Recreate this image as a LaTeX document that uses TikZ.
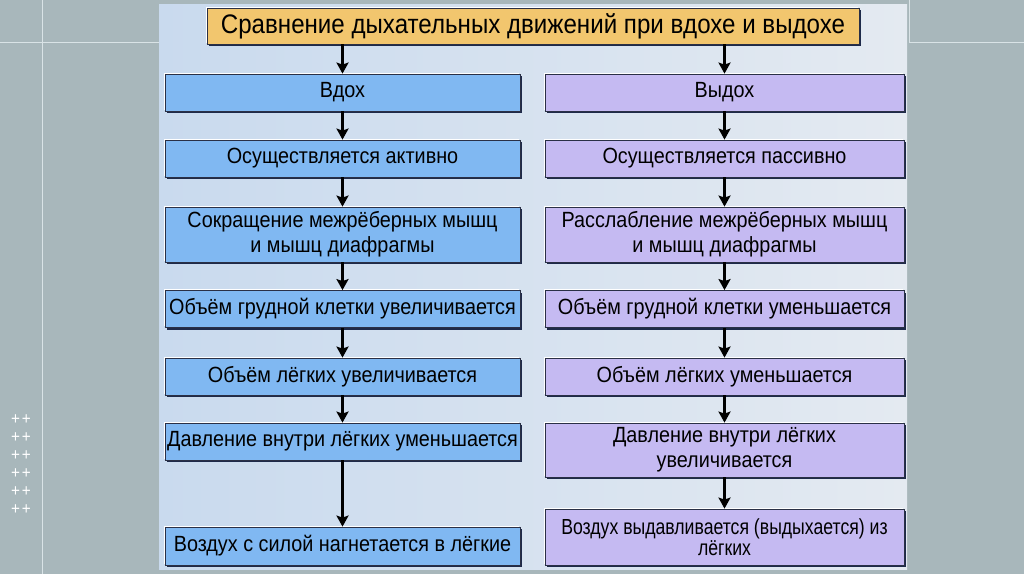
\documentclass[tikz,border=0pt]{standalone}
\usepackage{fontspec}
\setmainfont{Liberation Sans}[FakeStretch=0.9]
\newfontfamily\narrowsans{Liberation Sans}[FakeStretch=0.81]
\usetikzlibrary{arrows.meta,shadings}
\definecolor{outerbg}{HTML}{A8B7BB}
\definecolor{frameline}{HTML}{D9E3E6}
\definecolor{panelL}{HTML}{C9DAEE}
\definecolor{panelR}{HTML}{E4EAF1}
\definecolor{titlefill}{HTML}{F2C66E}
\definecolor{inhfill}{HTML}{80B8F2}
\definecolor{exhfill}{HTML}{C5BAF2}
\definecolor{boxshadow}{HTML}{1E2A4A}
\definecolor{boxline}{HTML}{2A3046}
\tikzset{
  basebox/.style={rectangle, draw=boxline, line width=0.8pt, align=center, inner sep=2pt,
    font=\fontsize{22}{25}\selectfont, text=black,
    preaction={fill=white, transform canvas={shift={(-1.5pt,1.5pt)}}},
    preaction={fill=boxshadow, transform canvas={shift={(2pt,-2pt)}}}},
  titlebox/.style={basebox, fill=titlefill, font=\fontsize{26.8}{30}\selectfont},
  inhbox/.style={basebox, fill=inhfill, minimum width=355pt},
  exhbox/.style={basebox, fill=exhfill, minimum width=359pt},
  smalltext/.style={font=\narrowsans\fontsize{21.8}{21}\selectfont},
  flow/.style={-{Stealth[width=12pt,length=11pt,inset=2pt]}, line width=2.4pt, black},
  plus/.style={text=white, font=\fontsize{17}{17}\selectfont, inner sep=0pt}
}
\begin{document}
\begin{tikzpicture}[x=1pt,y=-1pt]
\useasboundingbox (0,0) rectangle (1024,574);
\fill[outerbg] (0,0) rectangle (1024,574);
% frame lines
\draw[frameline, line width=1pt] (42,0) -- (42,574);
\draw[frameline, line width=1pt] (0,42) -- (160,42);
\draw[frameline, line width=1pt] (909,0) -- (909,42);
\draw[frameline, line width=1pt] (909,42) -- (1024,42);
% panel
\shade[left color=panelL, right color=panelR] (159,4) rectangle (907,569);
% plus marks
\foreach \i/\yy in {1/420,2/438,3/456,4/474,5/492,6/510}
  \node[plus] (p\i) at (21,\yy) {+\kern2pt+};
% title
\node[titlebox, minimum width=652pt, minimum height=36pt] (t) at (533,26) {Сравнение дыхательных движений при вдохе и выдохе};
% left column
\node[inhbox, minimum height=37pt] (l1) at (342.5,92.5) {Вдох};
\node[inhbox, minimum height=37pt] (l2) at (342.5,158.5) {Осуществляется активно};
\node[inhbox, minimum height=55pt] (l3) at (342.5,234.5) {Сокращение межрёберных мышц\\и мышц диафрагмы};
\node[inhbox, minimum height=37pt] (l4) at (342.5,309) {Объём грудной клетки увеличивается};
\node[inhbox, minimum height=37pt] (l5) at (342.5,376.5) {Объём лёгких увеличивается};
\node[inhbox, minimum height=37pt] (l6) at (342.5,441.5) {Давление внутри лёгких уменьшается};
\node[inhbox, minimum height=38pt] (l7) at (342.5,546) {Воздух с силой нагнетается в лёгкие};
% right column
\node[exhbox, minimum height=37pt] (r1) at (724.5,92.5) {Выдох};
\node[exhbox, minimum height=37pt] (r2) at (724.5,158.5) {Осуществляется пассивно};
\node[exhbox, minimum height=55pt] (r3) at (724.5,234.5) {Расслабление межрёберных мышц\\и мышц диафрагмы};
\node[exhbox, minimum height=37pt] (r4) at (724.5,309) {Объём грудной клетки уменьшается};
\node[exhbox, minimum height=37pt] (r5) at (724.5,376.5) {Объём лёгких уменьшается};
\node[exhbox, minimum height=54pt] (r6) at (724.5,450) {Давление внутри лёгких\\увеличивается};
\node[exhbox, smalltext, minimum height=56pt] (r7) at (724.5,537) {Воздух выдавливается (выдыхается) из\\лёгких};
% arrows
\draw[flow] (t.south -| l1.north) -- (l1.north);
\draw[flow] (t.south -| r1.north) -- (r1.north);
\foreach \a/\b in {l1/l2,l2/l3,l3/l4,l4/l5,l5/l6,l6/l7,r1/r2,r2/r3,r3/r4,r4/r5,r5/r6,r6/r7}
  \draw[flow] (\a.south) -- (\b.north);
\end{tikzpicture}
\end{document}
